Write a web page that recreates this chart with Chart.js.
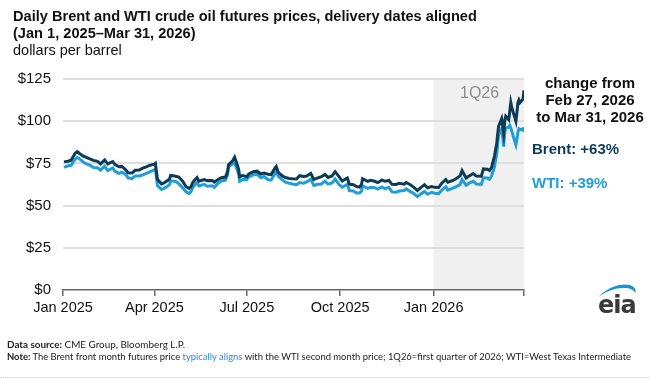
<!DOCTYPE html>
<html>
<head>
<meta charset="utf-8">
<script src="https://cdn.jsdelivr.net/npm/chart.js@4.4.1/dist/chart.umd.min.js"></script>
<style>
  html, body { margin:0; padding:0; background:#fff; }
  #wrap { position:relative; width:650px; height:379px; overflow:hidden; font-family:"Liberation Sans", Arial, sans-serif; }
  #c { position:absolute; left:0; top:0; }
  .t { position:absolute; white-space:nowrap; }
  .title { left:13px; font-weight:bold; font-size:14.6px; color:#111; line-height:17px; }
  .sub { left:13px; font-size:14.5px; color:#111; }
  .ann { font-weight:bold; font-size:15px; color:#111; text-align:center; width:130px; left:525px; line-height:17px; }
  .foot { left:7px; font-family:"Lato", "DejaVu Sans", sans-serif; font-size:9.6px; color:#222; transform-origin:0 0; }
  .foot b { font-weight:bold; }
</style>
</head>
<body>
<div id="wrap">
  <canvas id="c" width="650" height="379"></canvas>
  <div class="t title" style="top:8px">Daily Brent and WTI crude oil futures prices, delivery dates aligned</div>
  <div class="t title" style="top:25px">(Jan 1, 2025–Mar 31, 2026)</div>
  <div class="t sub" style="top:42px">dollars per barrel</div>
  <div class="t" style="left:460px; top:84px; font-size:16px; color:#8e8e8e;">1Q26</div>
  <div class="t ann" style="top:74px">change from<br>Feb 27, 2026<br>to Mar 31, 2026</div>
  <div class="t" style="left:532px; top:140px; font-weight:bold; font-size:15px; color:#0c3b56;">Brent: +63%</div>
  <div class="t" style="left:532px; top:174px; font-weight:bold; font-size:15px; color:#1f9ed9;">WTI: +39%</div>
  <svg style="position:absolute; left:0; top:0;" width="650" height="379">
    <path d="M598 297 Q614 282 630 285 Q636 287 636 293 Q631 288 626 288 Q612 287 598 297 Z" fill="#1a94d6"/>
  </svg>
  <div class="t" style="left:598px; top:291px; font-family:'DejaVu Sans', sans-serif; font-size:24px; font-weight:bold; color:#3a3a3a; letter-spacing:-1px;">eia</div>
  <div class="t foot" id="f1" data-w="178" style="top:339px"><b>Data source:</b> CME Group, Bloomberg L.P.</div>
  <div class="t foot" id="f2" data-w="624" style="top:351px"><b>Note:</b> The Brent front month futures price <span style="color:#1f8dd6">typically aligns</span> with the WTI second month price; 1Q26=first quarter of 2026; WTI=West Texas Intermediate</div>
  <div style="position:absolute; left:0; top:377px; width:650px; border-top:1px dotted #d0d0d0;"></div>
</div>
<script>
const dates = [
'2025-01-02','2025-01-06','2025-01-09','2025-01-13','2025-01-15','2025-01-17','2025-01-21','2025-01-24','2025-01-28','2025-01-31',
'2025-02-04','2025-02-07','2025-02-11','2025-02-14','2025-02-19','2025-02-21','2025-02-25','2025-02-28',
'2025-03-04','2025-03-06','2025-03-10','2025-03-13','2025-03-17','2025-03-20','2025-03-24','2025-03-27',
'2025-04-01','2025-04-02','2025-04-03','2025-04-04','2025-04-08','2025-04-10','2025-04-14','2025-04-16','2025-04-17','2025-04-22','2025-04-25','2025-04-29',
'2025-05-02','2025-05-05','2025-05-07','2025-05-09','2025-05-13','2025-05-15','2025-05-20','2025-05-23','2025-05-28','2025-05-30',
'2025-06-03','2025-06-06','2025-06-10','2025-06-12','2025-06-13','2025-06-17','2025-06-19','2025-06-20','2025-06-23','2025-06-24','2025-06-27',
'2025-07-01','2025-07-03','2025-07-08','2025-07-11','2025-07-15','2025-07-18','2025-07-22','2025-07-25','2025-07-29','2025-07-30',
'2025-08-01','2025-08-05','2025-08-08','2025-08-12','2025-08-15','2025-08-19','2025-08-22','2025-08-26','2025-08-29',
'2025-09-02','2025-09-05','2025-09-09','2025-09-12','2025-09-16','2025-09-19','2025-09-23','2025-09-26','2025-09-30',
'2025-10-03','2025-10-08','2025-10-10','2025-10-14','2025-10-17','2025-10-20','2025-10-22','2025-10-23','2025-10-28','2025-10-31',
'2025-11-04','2025-11-07','2025-11-11','2025-11-14','2025-11-18','2025-11-21','2025-11-25','2025-11-28',
'2025-12-03','2025-12-05','2025-12-09','2025-12-12','2025-12-16','2025-12-19','2025-12-23','2025-12-26','2025-12-30',
'2026-01-02','2026-01-06','2026-01-09','2026-01-13','2026-01-15','2026-01-20','2026-01-23','2026-01-27','2026-01-29',
'2026-02-02','2026-02-05','2026-02-09','2026-02-12','2026-02-17','2026-02-19','2026-02-23','2026-02-25','2026-02-27',
'2026-03-02','2026-03-03','2026-03-04','2026-03-05','2026-03-06','2026-03-09','2026-03-10','2026-03-11','2026-03-12','2026-03-13',
'2026-03-16','2026-03-17','2026-03-18','2026-03-19','2026-03-20','2026-03-23','2026-03-24','2026-03-25','2026-03-26','2026-03-27','2026-03-30','2026-03-31'
];
const brent = [
75.9,76.3,76.9,81.0,82.0,81.0,79.3,78.5,77.5,76.8,
76.2,74.7,77.0,74.7,76.0,74.4,73.0,73.2,
71.0,69.5,69.3,70.9,71.1,72.0,73.0,73.8,
74.5,75.0,70.1,65.6,62.8,63.3,64.9,65.8,67.9,67.4,66.9,64.3,
61.3,60.2,61.1,63.9,66.6,64.5,65.4,64.8,64.9,63.9,
65.6,66.5,66.9,69.8,74.2,76.5,78.7,77.0,71.5,67.1,67.8,
67.1,68.8,70.2,70.4,68.7,69.3,68.6,68.4,72.5,73.2,
69.7,67.6,66.6,66.1,65.9,65.8,67.7,67.2,67.5,
69.1,65.5,66.4,67.0,68.5,66.7,67.6,70.1,67.0,
64.5,66.3,62.7,62.4,61.3,61.0,62.6,65.9,64.4,65.0,
64.4,63.6,65.2,64.4,64.9,62.6,62.5,63.2,
62.7,63.7,62.4,61.1,58.9,60.5,62.4,60.6,61.3,
60.8,60.7,63.3,65.5,63.8,64.9,65.9,67.6,70.7,
66.3,67.6,69.0,67.5,67.4,71.7,71.5,70.8,72.5,
79.5,83.0,86.0,92.0,97.0,101.5,97.5,93.0,100.0,103.0,
101.0,106.0,111.0,108.0,106.0,100.0,105.0,111.0,112.5,111.0,113.0,118.3
];
const wti = [
72.6,73.6,73.9,77.5,78.5,77.9,75.8,74.7,73.8,72.5,
72.4,71.0,73.3,70.7,72.3,70.4,69.1,69.8,
68.3,66.4,66.0,67.6,67.6,68.1,69.1,69.9,
71.2,71.7,66.9,61.9,59.6,60.1,61.5,62.5,64.7,64.3,63.0,60.4,
58.3,57.1,58.1,61.0,63.7,61.6,62.6,61.5,61.8,60.8,
63.4,64.6,65.0,68.0,72.9,74.8,74.9,73.8,68.5,64.4,65.5,
65.4,67.0,68.3,68.5,66.5,67.3,65.3,65.2,69.2,70.0,
67.3,65.2,63.9,63.2,62.8,62.4,63.7,63.3,64.0,
65.6,61.9,62.6,62.7,64.5,62.7,63.4,65.7,62.4,
60.9,62.6,58.9,58.7,57.5,57.5,58.5,61.8,60.2,60.9,
60.6,59.8,61.0,60.1,60.7,58.1,57.9,58.6,
58.9,59.9,58.3,57.4,55.3,56.7,58.4,56.7,57.9,
57.3,57.1,59.1,61.2,59.2,60.3,61.1,62.4,65.4,
62.1,63.3,64.4,62.8,62.5,66.4,66.3,65.6,67.5,
73.0,77.0,80.0,86.0,92.0,95.5,90.5,85.0,93.0,96.0,
96.5,97.5,96.0,94.0,92.0,86.0,89.0,93.5,95.5,95.0,95.5,93.8
];
const tickDates = ['2025-01-01','2025-04-01','2025-07-01','2025-10-01','2026-01-01','2026-03-31'];
const tickLabels = ['Jan 2025','Apr 2025','Jul 2025','Oct 2025','Jan 2026',''];
const yTicks = [0,25,50,75,100,125];
const shadeStart = '2026-01-01';
const shadeEnd = '2026-03-31';

const base = Date.UTC(2025,0,1);
function dayOf(s){ const p = s.split('-').map(Number); return (Date.UTC(p[0],p[1]-1,p[2]) - base)/86400000; }
const tickVals = tickDates.map(dayOf);

// fit footer lines to their measured target widths
['f1','f2'].forEach(id=>{
  const el = document.getElementById(id);
  const w = el.getBoundingClientRect().width;
  const target = parseFloat(el.dataset.w);
  if (w > 0) el.style.transform = 'scaleX(' + (target / w) + ')';
});

const shadePlugin = {
  id:'shade',
  beforeDraw(chart){
    const {ctx, scales:{x,y}} = chart;
    const x0 = x.getPixelForValue(dayOf(shadeStart)), x1 = x.getPixelForValue(dayOf(shadeEnd));
    const y0 = y.getPixelForValue(125), y1 = y.getPixelForValue(0);
    ctx.save(); ctx.fillStyle = '#f0f0f0'; ctx.fillRect(x0, y0-1, x1-x0, y1-y0+1); ctx.restore();
  }
};

new Chart(document.getElementById('c'), {
  type:'line',
  data:{
    datasets:[
      { label:'Brent', data: dates.map((d,i)=>({x:dayOf(d), y:brent[i]})), borderColor:'#0c3b56', borderWidth:3, pointRadius:0, tension:0 },
      { label:'WTI', data: dates.map((d,i)=>({x:dayOf(d), y:wti[i]})), borderColor:'#1f9ed9', borderWidth:3, pointRadius:0, tension:0 }
    ]
  },
  options:{
    responsive:false, animation:false,
    layout:{ padding:{ left:0, right:126, top:79, bottom:59 } },
    plugins:{ legend:{display:false}, tooltip:{enabled:false} },
    scales:{
      x:{
        type:'linear', min:0, max:dayOf('2026-03-31'),
        afterFit(s){ s.height = 30; },
        afterBuildTicks(s){ s.ticks = tickVals.map(v=>({value:v})); },
        ticks:{ autoSkip:false, maxRotation:0, padding:3, color:'#111', font:{family:'Liberation Sans', size:14.5},
          callback(v){ const i = tickVals.indexOf(v); return i>=0 ? tickLabels[i] : ''; } },
        grid:{ display:true, drawOnChartArea:false, drawTicks:true, tickLength:6, color:'#666', lineWidth:1.5 },
        border:{ display:true, color:'#666', width:1.5 }
      },
      y:{
        min:0, max:125,
        afterFit(s){ s.width = 63; },
        afterBuildTicks(s){ s.ticks = yTicks.map(v=>({value:v})); },
        ticks:{ padding:12, color:'#111', font:{family:'Liberation Sans', size:15}, callback(v){ return '$'+v; } },
        grid:{ drawTicks:false, lineWidth:2, color(c){ return c.tick && c.tick.value===0 ? 'rgba(0,0,0,0)' : '#dedede'; } },
        border:{ display:false }
      }
    }
  },
  plugins:[shadePlugin]
});
</script>
</body>
</html>
